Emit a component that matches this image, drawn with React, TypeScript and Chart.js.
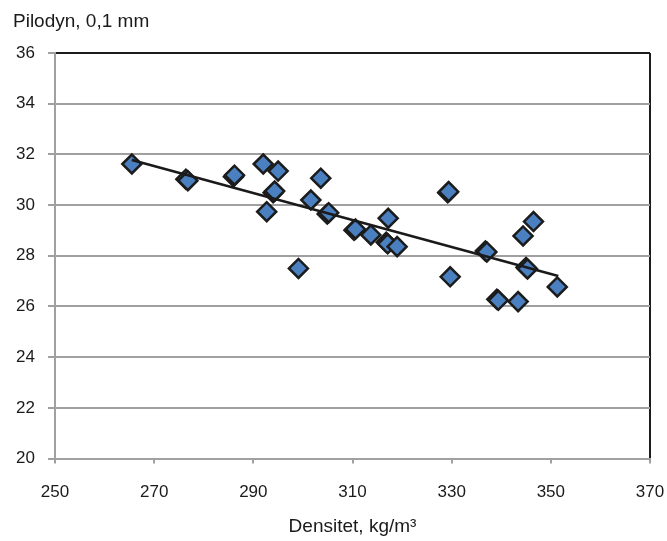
import React, { useEffect, useRef } from "react";
import { Chart, registerables } from "chart.js";

Chart.register(...registerables);

const Y_TITLE = "Pilodyn, 0,1 mm";
const X_TITLE = "Densitet, kg/m³";

const densitet = [
  265.5, 276.4, 276.8, 286.0, 286.2, 292.0, 295.0, 303.6, 294.0, 294.3, 292.7,
  301.6, 304.9, 305.2, 310.3, 310.6, 313.7, 316.8, 317.1, 319.0, 317.2, 299.1,
  329.2, 329.4, 329.7, 336.8, 337.1, 345.0, 345.3, 344.4, 346.5, 351.3, 339.1,
  339.4, 343.4,
];
const pilodyn = [
  31.62, 31.02, 30.96, 31.12, 31.18, 31.62, 31.34, 31.06, 30.49, 30.55, 29.74,
  30.2, 29.65, 29.7, 29.01, 29.05, 28.82, 28.53, 28.47, 28.36, 29.48, 27.5,
  30.49, 30.53, 27.17, 28.19, 28.15, 27.54, 27.48, 28.78, 29.35, 26.77, 26.28,
  26.24, 26.19,
];

const trendX = [265.5, 351.5];
const trendY = [31.78, 27.2];

const xTicks = [250, 270, 290, 310, 330, 350, 370];
const yTicks = [20, 22, 24, 26, 28, 30, 32, 34, 36];

const FONT = '"Liberation Sans", Arial, sans-serif';

export default function App() {
  const ref = useRef<HTMLCanvasElement | null>(null);

  useEffect(() => {
    if (!ref.current) return;
    const titlePlugin = {
      id: "ytitle",
      afterDraw(chart: any) {
        const ctx = chart.ctx;
        ctx.save();
        ctx.font = `19px ${FONT}`;
        ctx.fillStyle = "#1a1a1a";
        ctx.textBaseline = "alphabetic";
        ctx.textAlign = "left";
        ctx.fillText(Y_TITLE, 13, 26.5);
        ctx.restore();
      },
    };
    const chart = new Chart(ref.current, {
      type: "scatter",
      data: {
        datasets: [
          {
            type: "line",
            data: trendX.map((x, i) => ({ x, y: trendY[i] })),
            borderColor: "#1a1a1a",
            borderWidth: 2.5,
            pointRadius: 0,
            fill: false,
            order: 0,
          } as any,
          {
            data: densitet.map((x, i) => ({ x, y: pilodyn[i] })),
            pointStyle: "rectRot",
            pointRadius: 9.5,
            pointBackgroundColor: "#4a7fc0",
            pointBorderColor: "#1c1c1c",
            pointBorderWidth: 2.5,
            order: 1,
          },
        ],
      },
      options: {
        animation: false,
        responsive: false,
        layout: { padding: { left: 0, right: 17, top: 53, bottom: 0 } },
        plugins: {
          legend: { display: false },
          tooltip: { enabled: false },
          title: { display: false },
        },
        scales: {
          x: {
            type: "linear",
            min: 250,
            max: 370,
            afterBuildTicks: (s: any) => {
              s.ticks = xTicks.map((v) => ({ value: v }));
            },
            afterFit: (s: any) => {
              s.height = 82.5;
              s.paddingLeft = 0;
              s.paddingRight = 0;
            },
            border: { display: true, color: "#a0a0a0", width: 2 },
            grid: {
              display: true,
              drawOnChartArea: true,
              drawTicks: true,
              tickLength: 5,
              lineWidth: 2,
              tickWidth: 2,
              tickColor: "#a0a0a0",
              color: (c: any) =>
                c.tick && c.tick.value === 370 ? "#1c1c1c" : "rgba(0,0,0,0)",
            },
            ticks: {
              color: "#1a1a1a",
              font: { family: FONT, size: 17 },
              padding: 19,
              maxRotation: 0,
            },
            title: {
              display: true,
              text: X_TITLE,
              color: "#1a1a1a",
              font: { family: FONT, size: 19 },
              padding: { top: 4, bottom: 3 },
            },
          },
          y: {
            type: "linear",
            min: 20,
            max: 36,
            afterBuildTicks: (s: any) => {
              s.ticks = yTicks.map((v) => ({ value: v }));
            },
            afterFit: (s: any) => {
              s.width = 55;
              s.paddingTop = 0;
              s.paddingBottom = 0;
            },
            border: { display: true, color: "#a0a0a0", width: 2 },
            grid: {
              display: true,
              drawTicks: true,
              tickLength: 7,
              lineWidth: 2,
              tickWidth: 2,
              tickColor: "#a0a0a0",
              color: (c: any) =>
                c.tick && c.tick.value === 36 ? "#1c1c1c" : "#a0a0a0",
            },
            ticks: {
              color: "#1a1a1a",
              font: { family: FONT, size: 17 },
              padding: 13,
            },
          },
        },
      },
      plugins: [titlePlugin],
    });
    return () => chart.destroy();
  }, []);

  return (
    <canvas
      ref={ref}
      width={667}
      height={541}
      style={{ position: "absolute", left: 0, top: 0, display: "block" }}
    />
  );
}
